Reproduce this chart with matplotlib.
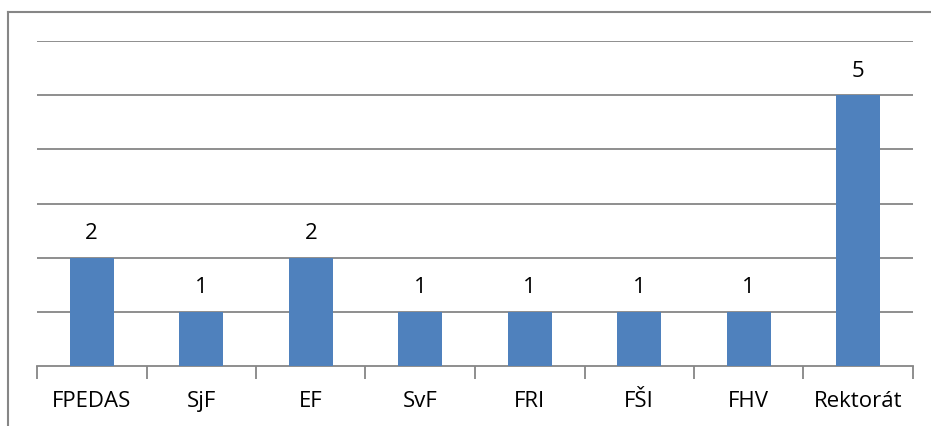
import matplotlib.pyplot as plt
from matplotlib.lines import Line2D

categories = ["FPEDAS", "SjF", "EF", "SvF", "FRI", "FŠI", "FHV", "Rektorát"]
values = [2, 1, 2, 1, 1, 1, 1, 5]

plt.rcParams['font.family'] = ['Open Sans', 'DejaVu Sans']

W, H = 931, 427
fig = plt.figure(figsize=(W / 100, H / 100), dpi=100)
ax = fig.add_axes([37 / W, (H - 367) / H, (913 - 37) / W, (367 - 42) / H])

x = list(range(len(categories)))
bars = ax.bar(x, values, width=0.4, color="#4f81bd", zorder=3)
for xi, v in zip(x, values):
    ax.annotate(str(v), (xi, v), xytext=(0, 10.5), textcoords="offset points",
                ha="center", va="bottom", fontsize=16, color="black")

ax.set_xlim(-0.5, len(categories) - 0.5)
ax.set_ylim(0, 6)
ax.set_yticks(range(1, 7))
ax.yaxis.grid(True, color="#868686", linewidth=1.3, zorder=0)
ax.tick_params(axis="y", left=False, labelleft=False)

ax.set_xticks(x)
ax.set_xticklabels(categories, fontsize=16)
ax.set_xticks([i - 0.5 for i in range(len(categories) + 1)], minor=True)
ax.tick_params(axis="x", which="major", length=0, pad=17)
ax.tick_params(axis="x", which="minor", length=9, width=1.3, color="#868686")

for s in ["top", "right", "left"]:
    ax.spines[s].set_visible(False)
ax.spines["bottom"].set_color("#868686")
ax.spines["bottom"].set_linewidth(1.3)

# outer chart frame
fig.add_artist(Line2D([8 / W, 1.0], [1 - 13 / H, 1 - 13 / H], color="#868686", linewidth=1.5))
fig.add_artist(Line2D([8 / W, 8 / W], [0, 1 - 13 / H], color="#868686", linewidth=1.5))

fig.savefig("out.png", dpi=100)
